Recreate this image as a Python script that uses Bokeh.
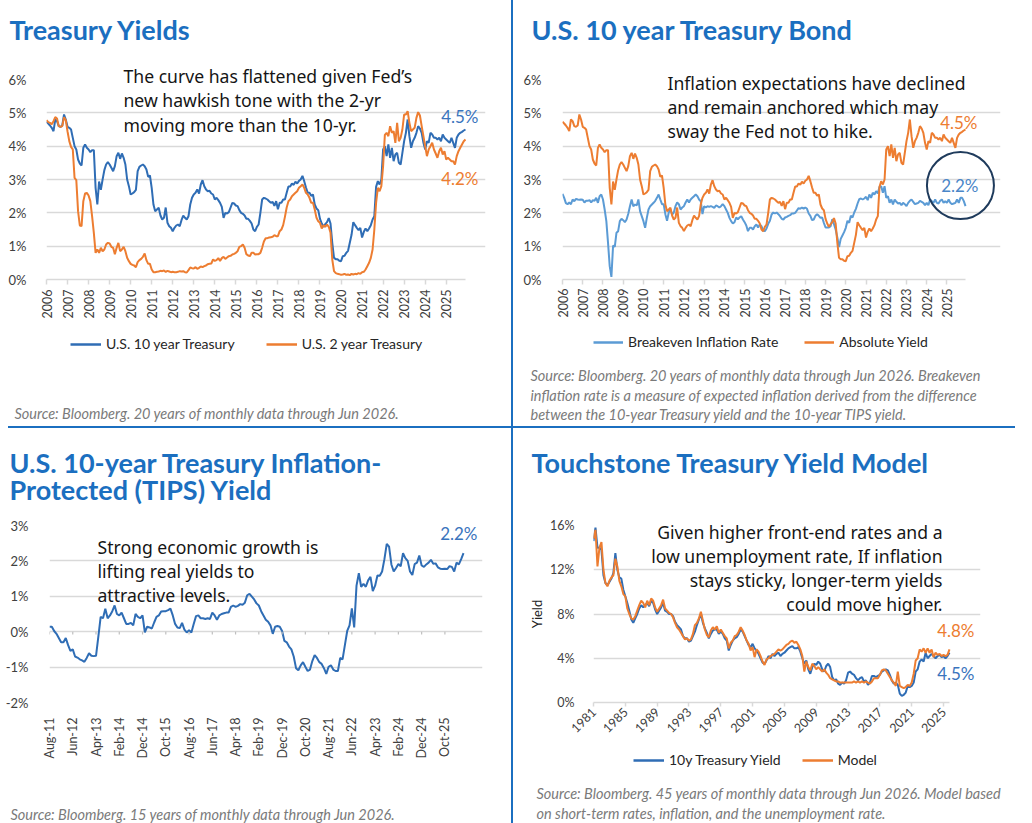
import math

from bokeh.embed import file_html
from bokeh.layouts import column, row
from bokeh.models import (Div, FixedTicker, GridBox, Label, Legend, LegendItem,
                          PrintfTickFormatter, Range1d)
from bokeh.plotting import figure
from bokeh.resources import INLINE

# ---------------------------------------------------------------------------
# Data (percent). Monthly series start in January 2006.
# ---------------------------------------------------------------------------
yields_start_year = 2006
ten_year = [
    4.73, 4.68, 4.62, 4.55, 4.45, 4.80, 4.75, 4.60, 4.58, 4.62,
    4.95, 4.80, 4.58, 4.55, 4.50, 4.25, 4.00, 3.90, 3.60, 3.48,
    3.42, 3.95, 4.05, 3.95, 3.90, 3.82, 3.88, 3.88, 2.75, 2.25,
    2.94, 2.69, 3.00, 3.28, 3.45, 3.52, 3.45, 3.35, 3.25, 3.40,
    3.70, 3.80, 3.62, 3.78, 3.65, 3.45, 3.00, 2.80, 2.55, 2.58,
    2.62, 2.69, 3.25, 3.38, 3.42, 3.45, 3.40, 3.30, 3.08, 3.12,
    2.75, 2.25, 2.05, 2.10, 2.15, 1.92, 1.80, 1.85, 2.16, 1.70,
    1.60, 1.55, 1.45, 1.55, 1.62, 1.65, 1.60, 1.78, 1.92, 1.85,
    1.80, 1.90, 2.25, 2.45, 2.55, 2.60, 2.70, 2.58, 2.85, 2.98,
    2.80, 2.70, 2.65, 2.66, 2.58, 2.55, 2.40, 2.45, 2.38, 2.30,
    2.18, 1.85, 2.00, 1.98, 2.02, 2.16, 2.30, 2.28, 2.22, 2.20,
    2.08, 2.00, 1.97, 1.92, 1.82, 1.82, 1.76, 1.68, 1.50, 1.45,
    1.58, 1.65, 2.00, 2.40, 2.45, 2.43, 2.40, 2.35, 2.30, 2.33,
    2.21, 2.35, 2.11, 2.30, 2.30, 2.40, 2.40, 2.60, 2.79, 2.79,
    2.88, 2.84, 2.93, 2.88, 2.96, 3.00, 3.11, 2.95, 2.76, 2.60,
    2.60, 2.51, 2.55, 2.25, 2.13, 2.08, 1.82, 1.68, 1.58, 1.66,
    1.72, 1.84, 1.68, 1.10, 0.65, 0.61, 0.61, 0.56, 0.55, 0.70,
    0.71, 0.80, 0.86, 1.10, 1.34, 1.72, 1.63, 1.55, 1.48, 1.55,
    1.26, 1.43, 1.53, 1.45, 1.53, 1.63, 1.80, 1.90, 2.78, 2.95,
    2.85, 3.00, 3.90, 4.00, 3.70, 4.05, 3.65, 3.95, 3.55, 3.75,
    3.80, 3.50, 3.45, 3.80, 4.15, 4.40, 4.80, 4.30, 3.95, 4.15,
    4.25, 4.40, 4.60, 4.53, 4.40, 4.10, 3.90, 4.15, 4.10, 4.40,
    4.35, 4.25, 4.25, 4.20, 4.25, 4.15, 4.35, 4.25, 4.20, 4.15,
    4.10, 4.25, 4.10, 3.95, 4.25, 4.35, 4.40, 4.43, 4.47, 4.50,
]
two_year = [
    4.78, 4.72, 4.70, 4.66, 4.75, 4.87, 4.83, 4.60, 4.58, 4.60,
    4.87, 4.78, 4.44, 4.15, 3.98, 3.90, 3.05, 2.98, 2.05, 1.62,
    1.60, 2.35, 2.58, 2.60, 2.52, 2.35, 1.90, 1.40, 0.80, 0.90,
    0.80, 0.95, 0.85, 0.90, 1.05, 1.10, 1.08, 0.98, 0.95, 0.76,
    0.95, 1.10, 0.85, 0.90, 0.98, 0.85, 0.65, 0.55, 0.47, 0.44,
    0.42, 0.37, 0.52, 0.58, 0.62, 0.68, 0.78, 0.58, 0.47, 0.47,
    0.30, 0.22, 0.22, 0.23, 0.24, 0.26, 0.25, 0.27, 0.23, 0.26,
    0.24, 0.22, 0.23, 0.22, 0.22, 0.23, 0.25, 0.24, 0.25, 0.22,
    0.21, 0.28, 0.36, 0.34, 0.33, 0.37, 0.32, 0.35, 0.39, 0.37,
    0.40, 0.42, 0.46, 0.47, 0.48, 0.60, 0.56, 0.58, 0.64, 0.56,
    0.64, 0.68, 0.62, 0.66, 0.70, 0.71, 0.75, 0.77, 0.80, 0.85,
    0.98, 1.00, 1.05, 0.95, 0.76, 0.72, 0.70, 0.80, 0.80, 0.75,
    0.76, 0.76, 0.80, 0.95, 1.14, 1.24, 1.24, 1.26, 1.27, 1.28,
    1.33, 1.30, 1.30, 1.45, 1.50, 1.63, 1.88, 2.16, 2.35, 2.40,
    2.50, 2.55, 2.60, 2.65, 2.75, 2.80, 2.85, 2.75, 2.60, 2.55,
    2.45, 2.30, 2.30, 2.10, 1.85, 1.75, 1.70, 1.53, 1.63, 1.58,
    1.65, 1.58, 1.40, 0.60, 0.25, 0.19, 0.17, 0.16, 0.14, 0.15,
    0.17, 0.14, 0.15, 0.13, 0.17, 0.15, 0.17, 0.16, 0.19, 0.17,
    0.22, 0.23, 0.30, 0.40, 0.50, 0.65, 0.90, 1.50, 2.30, 2.75,
    2.65, 2.80, 3.40, 4.34, 4.40, 4.30, 4.60, 4.40, 4.45, 4.10,
    4.70, 4.15, 4.25, 4.50, 4.95, 4.95, 5.05, 4.70, 4.45, 4.50,
    4.55, 4.85, 5.02, 4.92, 4.60, 4.30, 4.00, 3.70, 3.90, 4.00,
    4.10, 3.90, 3.78, 3.65, 3.85, 3.95, 3.75, 3.85, 3.60, 3.65,
    3.60, 3.55, 3.55, 3.45, 3.70, 3.85, 3.95, 4.05, 4.15, 4.20,
]
breakeven = [
    2.57, 2.45, 2.29, 2.26, 2.31, 2.26, 2.40, 2.35, 2.42, 2.40,
    2.39, 2.40, 2.39, 2.31, 2.36, 2.36, 2.38, 2.31, 2.38, 2.36,
    2.45, 2.30, 2.50, 2.55, 2.40, 2.10, 1.75, 1.10, 0.40, 0.08,
    1.02, 0.98, 1.40, 1.45, 1.75, 1.82, 1.78, 1.72, 1.80, 1.97,
    2.20, 2.40, 2.20, 2.25, 2.22, 2.40, 2.05, 1.90, 1.75, 1.55,
    1.85, 2.10, 2.20, 2.25, 2.30, 2.36, 2.45, 2.55, 2.40, 2.26,
    2.26, 1.96, 1.76, 2.01, 2.10, 1.95, 2.01, 2.20, 2.31, 2.26,
    2.10, 2.16, 2.20, 2.31, 2.40, 2.31, 2.40, 2.45, 2.50, 2.55,
    2.50, 2.40, 2.35, 1.96, 2.20, 2.16, 2.20, 2.18, 2.20, 2.18,
    2.15, 2.22, 2.20, 2.16, 2.20, 2.26, 2.20, 2.10, 2.00, 1.85,
    1.75, 1.68, 1.72, 1.86, 1.81, 1.86, 1.90, 1.80, 1.72, 1.62,
    1.45, 1.55, 1.55, 1.50, 1.60, 1.65, 1.56, 1.65, 1.60, 1.47,
    1.45, 1.53, 1.67, 1.76, 1.95, 2.01, 1.98, 2.01, 1.96, 1.90,
    1.82, 1.80, 1.86, 1.88, 1.91, 1.93, 1.98, 1.98, 2.00, 2.07,
    2.14, 2.12, 2.16, 2.12, 2.16, 2.12, 1.98, 1.91, 1.78, 1.80,
    1.91, 1.96, 1.91, 1.85, 1.86, 1.70, 1.56, 1.56, 1.56, 1.60,
    1.81, 1.66, 1.50, 1.26, 0.97, 1.22, 1.32, 1.42, 1.55, 1.76,
    1.70, 1.91, 1.86, 2.01, 2.12, 2.28, 2.41, 2.43, 2.40, 2.43,
    2.48, 2.38, 2.55, 2.45, 2.60, 2.55, 2.65, 2.58, 2.78, 2.80,
    2.60, 2.80, 2.45, 2.50, 2.30, 2.40, 2.25, 2.40, 2.33, 2.28,
    2.30, 2.23, 2.30, 2.26, 2.20, 2.30, 2.36, 2.40, 2.33, 2.26,
    2.28, 2.30, 2.36, 2.33, 2.30, 2.23, 2.30, 2.23, 2.40, 2.35,
    2.30, 2.40, 2.30, 2.28, 2.36, 2.40, 2.30, 2.35, 2.30, 2.40,
    2.30, 2.26, 2.28, 2.30, 2.40, 2.30, 2.45, 2.45, 2.35, 2.20,
]
year_ticks = list(range(2006, 2026))

# 10-year TIPS yield, monthly from Aug 2011
tips = [
    0.14, 0.14, 0.02, -0.06, -0.18, -0.30, -0.30, -0.18, -0.38, -0.54,
    -0.50, -0.70, -0.73, -0.78, -0.81, -0.85, -0.74, -0.61, -0.68, -0.69,
    -0.68, -0.14, 0.42, 0.38, 0.65, 0.38, 0.46, 0.58, 0.74, 0.50,
    0.46, 0.54, 0.38, 0.22, 0.22, 0.25, 0.18, 0.50, 0.42, 0.38,
    0.46, -0.02, 0.14, 0.12, 0.09, 0.26, 0.42, 0.46, 0.57, 0.58,
    0.58, 0.61, 0.65, 0.46, 0.22, 0.12, 0.10, 0.25, 0.06, -0.02,
    0.04, -0.02, 0.22, 0.44, 0.46, 0.38, 0.38, 0.36, 0.38, 0.36,
    0.54, 0.46, 0.34, 0.46, 0.50, 0.52, 0.54, 0.54, 0.70, 0.74,
    0.70, 0.73, 0.78, 0.76, 0.82, 1.03, 1.07, 0.99, 0.91, 0.80,
    0.74, 0.58, 0.46, 0.34, 0.28, 0.18, -0.06, 0.14, 0.16, 0.14,
    0.02, -0.26, -0.30, -0.42, -0.50, -0.70, -1.03, -1.09, -0.95, -0.86,
    -0.99, -1.11, -1.07, -0.83, -0.66, -0.74, -0.86, -0.91, -1.03, -1.19,
    -0.99, -0.95, -1.07, -1.11, -1.11, -0.74, -0.78, -0.38, 0.02, 0.18,
    0.66, 0.12, 1.30, 1.65, 1.27, 1.35, 1.27, 1.45, 1.55, 1.15,
    1.30, 1.59, 1.58, 1.70, 2.05, 2.48, 2.40, 1.90, 1.70, 1.80,
    1.91, 1.85, 2.22, 2.08, 2.00, 1.70, 1.60, 1.91, 1.95, 2.15,
    1.87, 1.83, 1.90, 1.95, 2.03, 1.92, 1.93, 1.82, 1.78, 1.77,
    1.78, 1.77, 1.85, 1.83, 1.70, 1.95, 1.90, 2.05, 2.22,
]
tips_tick_labels = [
    "Aug-11", "Jun-12", "Apr-13", "Feb-14", "Dec-14", "Oct-15", "Aug-16",
    "Jun-17", "Apr-18", "Feb-19", "Dec-19", "Oct-20", "Aug-21", "Jun-22",
    "Apr-23", "Feb-24", "Dec-24", "Oct-25",
]
tips_tick_step = 10  # months between labelled ticks

# Yield model, quarterly from 1981
model_start_year = 1981
model_treasury = [
    14.6, 15.8, 14.0, 14.0, 13.8, 11.5, 10.8, 10.6, 10.9, 11.2,
    11.7, 13.5, 12.0, 11.3, 11.2, 10.2, 9.6, 9.0, 8.3, 7.5,
    7.2, 7.6, 8.0, 8.5, 8.8, 8.6, 8.8, 9.0, 8.7, 9.2,
    9.0, 8.4, 8.0, 8.3, 8.6, 9.0, 8.3, 8.2, 8.0, 8.0,
    7.8, 7.3, 7.0, 6.8, 6.6, 6.0, 5.8, 5.8, 5.5, 5.6,
    6.0, 6.4, 7.0, 7.5, 8.0, 7.2, 6.7, 6.3, 5.8, 6.2,
    6.5, 6.6, 6.6, 6.2, 6.4, 6.2, 5.8, 5.6, 4.7, 5.2,
    5.6, 5.8, 5.9, 6.2, 6.6, 6.4, 6.0, 5.6, 5.2, 5.0,
    5.3, 4.9, 4.7, 4.4, 4.0, 3.6, 3.5, 3.8, 4.2, 4.0,
    4.4, 4.2, 4.4, 4.5, 4.2, 4.4, 4.5, 4.7, 4.9, 5.0,
    5.1, 4.9, 4.9, 5.0, 4.6, 4.0, 3.5, 3.8, 3.0, 2.6,
    3.2, 3.5, 3.4, 3.7, 3.5, 3.0, 2.8, 3.3, 3.5, 3.2,
    2.3, 2.0, 2.1, 1.7, 1.6, 1.8, 1.7, 2.0, 2.7, 2.8,
    2.6, 2.5, 2.2, 2.0, 2.2, 2.3, 1.9, 2.0, 1.6, 1.8,
    2.4, 2.4, 2.3, 2.4, 2.5, 2.8, 2.9, 3.0, 2.9, 2.5,
    2.0, 1.7, 1.8, 1.6, 0.8, 0.6, 0.7, 0.9, 1.5, 1.4,
    1.5, 1.8, 2.8, 3.0, 3.7, 3.9, 3.7, 4.5, 4.0, 4.2,
    4.4, 4.2, 4.0, 4.2, 4.3, 4.1, 4.2, 4.0, 4.2, 4.5,
]
model_fit = [
    14.8, 15.6, 12.3, 14.0, 14.5, 12.0, 10.8, 10.5, 11.0, 11.3,
    11.5, 13.0, 12.3, 11.0, 10.5, 9.8, 9.6, 8.5, 8.0, 7.6,
    7.5, 7.8, 8.3, 8.8, 9.2, 9.0, 8.6, 9.2, 8.8, 9.4,
    9.2, 8.6, 8.2, 8.5, 8.8, 9.3, 8.5, 8.3, 8.1, 8.0,
    7.7, 7.2, 6.8, 6.6, 6.3, 6.0, 5.7, 5.8, 5.6, 5.7,
    6.2, 7.0, 7.2, 7.6, 8.2, 7.4, 6.6, 6.1, 5.9, 6.5,
    6.8, 6.6, 6.9, 6.3, 6.6, 6.3, 6.0, 5.8, 4.9, 5.4,
    5.6, 6.0, 6.1, 6.4, 6.8, 6.5, 6.1, 5.6, 5.3, 4.7,
    5.0, 4.1, 4.8, 4.6, 4.2, 3.7, 3.4, 3.9, 4.0, 4.2,
    4.3, 4.4, 4.6, 4.8, 4.7, 4.8, 5.0, 5.2, 5.3, 5.5,
    5.6, 5.4, 5.5, 5.2, 4.8, 4.2, 2.8, 3.7, 3.2, 2.9,
    3.5, 3.3, 3.0, 3.2, 3.0, 2.8, 3.0, 2.7, 2.5, 2.2,
    2.1, 2.0, 1.9, 1.9, 1.8, 1.8, 1.8, 1.8, 1.8, 1.8,
    1.8, 1.9, 1.8, 1.9, 1.8, 1.9, 1.8, 1.9, 1.8, 1.7,
    1.9, 2.2, 2.2, 2.2, 2.5, 2.9, 3.0, 2.9, 2.6, 2.3,
    2.0, 1.8, 1.5, 2.8, 1.5, 1.4, 1.3, 1.4, 1.6, 1.5,
    1.8, 2.6, 3.8, 4.0, 4.8, 4.6, 4.9, 4.5, 4.9, 4.5,
    4.8, 4.1, 4.5, 4.3, 4.4, 4.2, 4.3, 4.2, 4.3, 4.8,
]
model_year_ticks = list(range(1981, 2026, 4))

# ---------------------------------------------------------------------------
# Styling
# ---------------------------------------------------------------------------
BLUE = "#2f6db5"
ORANGE = "#ed7d31"
LIGHT_BLUE = "#5b9bd5"
ACCENT = "#1b6fc0"
GRID = "#d9d9d9"
TICK_TEXT = "#404040"
UI_FONT = "Lato"
NOTE_FONT = "Noto Sans"
SOURCE_COLOR = "#7a7a7a"
PAGE_W, PAGE_H = 1032, 823


class Panel:
    """A chart whose plot frame sits at given page pixels.

    ox, oy, w, h: canvas box on the page; frame_* are page pixels. The data
    run from x0 to x1 and end at page pixel data_right; the frame may extend
    further right to leave room for end-of-line labels.
    """

    def __init__(self, ox, oy, w, h, frame_left, frame_right, frame_top,
                 frame_bottom, x0, x1, data_right, y_range):
        span = (x1 - x0) * (frame_right - frame_left) / (data_right - frame_left)
        p = figure(width=w, height=h, x_range=Range1d(x0, x0 + span),
                   y_range=y_range, output_backend="svg",
                   toolbar_location=None,
                   min_border_left=frame_left - ox,
                   min_border_right=ox + w - frame_right,
                   min_border_top=frame_top - oy,
                   min_border_bottom=oy + h - frame_bottom)
        p.outline_line_color = None
        p.background_fill_color = "white"
        p.border_fill_color = "white"
        p.xgrid.grid_line_color = None
        p.ygrid.grid_line_color = GRID
        p.ygrid.grid_line_width = 1.5
        p.ygrid.bounds = (x0, x1)
        for ax in (p.xaxis, p.yaxis):
            ax.major_label_text_font = UI_FONT
            ax.major_label_text_color = TICK_TEXT
            ax.minor_tick_line_color = None
        p.yaxis.axis_line_color = None
        p.yaxis.major_tick_line_color = None
        p.xaxis.bounds = (x0, x1)
        p.xaxis.axis_line_color = GRID
        p.xaxis.axis_line_width = 1.5
        p.xaxis.major_tick_line_color = GRID
        p.xaxis.major_tick_line_width = 1.5
        p.xaxis.major_tick_in = 0
        p.xaxis.major_tick_out = 5
        self.fig = p

    def end_label(self, x, y, s, color, dx, dy):
        self.fig.add_layout(Label(
            x=x, y=y, x_offset=dx, y_offset=dy, text=s, text_font=UI_FONT,
            text_font_size="17px", text_color=color, text_align="right",
            text_baseline="middle"))


def pct_axis(p, ticks, grid_ticks, size):
    p.yaxis.ticker = FixedTicker(ticks=ticks)
    p.yaxis.formatter = PrintfTickFormatter(format="%d%%")
    p.yaxis.major_label_text_font_size = f"{size}px"
    p.ygrid.ticker = FixedTicker(ticks=grid_ticks)


# A transparent sheet over the whole page carries titles, notes, legends
# and source lines, so they are free to sit outside the plot frames.
sheet = figure(width=PAGE_W, height=PAGE_H, x_range=Range1d(0, PAGE_W),
               y_range=Range1d(PAGE_H, 0), output_backend="svg",
               toolbar_location=None, x_axis_location=None,
               y_axis_location=None, min_border=0)
sheet.grid.visible = False
sheet.outline_line_color = None
sheet.background_fill_alpha = 0
sheet.border_fill_alpha = 0


def put(s, gx, gy, size, color, font=UI_FONT, style="normal", align="left",
        baseline="middle"):
    sheet.add_layout(Label(
        x=gx, y=gy, text=s, text_font=font, text_font_size=f"{size}px",
        text_color=color, text_font_style=style, text_align=align,
        text_baseline=baseline))


def title(lines, gx, gy0):
    for i, line in enumerate(lines):
        put(line, gx, gy0 + i * 27, 27, ACCENT, style="bold",
            baseline="alphabetic")


def note(lines, gx, gy0, step, align="left"):
    for i, line in enumerate(lines):
        put(line, gx, gy0 + i * step, 17.6, "#151515", font=NOTE_FONT,
            align=align)


def source(lines, gx, gy0, step=19.7):
    for i, line in enumerate(lines):
        put(line, gx, gy0 + i * step, 14.5, SOURCE_COLOR, style="italic")


def legend(entries, gx, gy, spacing, glyph_w):
    items = []
    for lab, color in entries:
        # key-only renderer: a single missing point, so nothing is plotted
        swatch = sheet.line(x=[float("nan")], y=[float("nan")], color=color,
                            line_width=2.5)
        items.append(LegendItem(label=lab, renderers=[swatch]))
    sheet.add_layout(Legend(
        items=items, orientation="horizontal",
        location=(gx, PAGE_H - gy - 8),
        label_text_font=UI_FONT, label_text_font_size="14px",
        label_text_color="#262626", glyph_width=glyph_w, glyph_height=16,
        label_height=16, label_standoff=5, spacing=spacing, padding=0,
        margin=0, border_line_color=None, background_fill_alpha=0))


months = [yields_start_year + i / 12 for i in range(len(ten_year))]

# ---------------------------------------------------------------------------
# Treasury Yields
# ---------------------------------------------------------------------------
p1 = Panel(0, 0, 511, 426, 46, 485, 73, 279, months[0], months[-1], 465,
           Range1d(0, 6))
f = p1.fig
f.line(months, ten_year, color=BLUE, line_width=2)
f.line(months, two_year, color=ORANGE, line_width=2)
pct_axis(f, list(range(0, 7)), list(range(1, 6)), 13)
f.yaxis.major_label_standoff = 14
f.xaxis.ticker = FixedTicker(ticks=year_ticks)
f.xaxis.major_label_orientation = math.pi / 2
f.xaxis.major_label_text_font_size = "12.5px"
f.xaxis.major_label_standoff = 5
p1.end_label(months[-1], ten_year[-1], f"{ten_year[-1]:.1f}%", "#3a74bd", 13, 13.5)
p1.end_label(months[-1], two_year[-1], f"{two_year[-1]:.1f}%", ORANGE, 13, -39)

title(["Treasury Yields"], 9, 29)
note(["The curve has flattened given Fed\u2019s",
      "new hawkish tone with the 2-yr",
      "moving more than the 10-yr."], 123, 75, 24.6)
legend([("U.S. 10 year Treasury", BLUE), ("U.S. 2 year Treasury", ORANGE)],
       70, 344, 31, 31)
source(["Source: Bloomberg. 20 years of monthly data through Jun 2026."], 14, 413)

# ---------------------------------------------------------------------------
# U.S. 10 year Treasury Bond
# ---------------------------------------------------------------------------
p2 = Panel(513, 0, 519, 426, 562, 1000, 79, 281, months[0], months[-1], 965,
           Range1d(0, 6))
f = p2.fig
f.line(months, breakeven, color=LIGHT_BLUE, line_width=2)
f.line(months, ten_year, color=ORANGE, line_width=2)
pct_axis(f, list(range(0, 7)), list(range(1, 7)), 13)
f.yaxis.major_label_standoff = 15
f.xaxis.ticker = FixedTicker(ticks=year_ticks)
f.xaxis.major_label_orientation = math.pi / 2
f.xaxis.major_label_text_font_size = "12.5px"
f.xaxis.major_label_standoff = 4
f.scatter(x=[months[-1] - 0.25], y=[breakeven[-1] + 0.62], size=67,
          marker="circle", fill_color=None, line_color="#1f3b5c", line_width=2)
p2.end_label(months[-1], ten_year[-1], f"{ten_year[-1]:.1f}%", ORANGE, 12, 7)
p2.end_label(months[-1], breakeven[-1], f"{breakeven[-1]:.1f}%", "#4a86c8", 13, 21)

title(["U.S. 10 year Treasury Bond"], 531, 29)
note(["Inflation expectations have declined",
      "and remain anchored which may",
      "sway the Fed not to hike."], 667, 82, 24)
legend([("Breakeven Inflation Rate", LIGHT_BLUE), ("Absolute Yield", ORANGE)],
       593, 342, 26, 30)
source(["Source: Bloomberg. 20 years of monthly data through Jun 2026. Breakeven",
        "inflation rate is a measure of expected inflation derived from the difference",
        "between the 10-year Treasury yield and the 10-year TIPS yield."], 530, 375)

# ---------------------------------------------------------------------------
# U.S. 10-year TIPS Yield
# ---------------------------------------------------------------------------
tips_idx = list(range(len(tips)))
tips_ticks = [i * tips_tick_step for i in range(len(tips_tick_labels))]
p3 = Panel(0, 428, 511, 395, 49, 482, 525, 732, tips_idx[0], tips_idx[-1], 463,
           Range1d(-2, 3))
f = p3.fig
f.line(tips_idx, tips, color=BLUE, line_width=2)
f.segment(x0=tips_ticks, y0=[0] * len(tips_ticks), x1=tips_ticks,
          y1=[-0.08] * len(tips_ticks), line_color="#bfbfbf", line_width=1.2)
pct_axis(f, list(range(-2, 4)), list(range(-2, 4)), 13)
f.yaxis.major_label_standoff = 15
f.xaxis.ticker = FixedTicker(ticks=tips_ticks)
f.xaxis.major_label_overrides = {t: lab for t, lab in zip(tips_ticks, tips_tick_labels)}
f.xaxis.major_label_orientation = math.pi / 2
f.xaxis.major_label_text_font_size = "12.5px"
f.xaxis.axis_line_color = None
f.xaxis.major_tick_line_color = None
f.xaxis.major_label_standoff = 10
p3.end_label(tips_idx[-1], tips[-1], f"{tips[-1]:.1f}%", "#3a74bd", 14, 20)

title(["U.S. 10-year Treasury Inflation-", "Protected (TIPS) Yield"], 9, 462)
note(["Strong economic growth is",
      "lifting real yields to",
      "attractive levels."], 97, 546.7, 23.7)
source(["Source: Bloomberg. 15 years of monthly data through Jun 2026."], 10, 814)

# ---------------------------------------------------------------------------
# Touchstone Treasury Yield Model
# ---------------------------------------------------------------------------
quarters = [model_start_year + i / 4 for i in range(len(model_treasury))]
p4 = Panel(513, 428, 519, 395, 593, 980, 496, 702, quarters[0], quarters[-1],
           949, Range1d(0, 16))
f = p4.fig
f.line(quarters, model_treasury, color=BLUE, line_width=2)
f.line(quarters, model_fit, color=ORANGE, line_width=2)
pct_axis(f, [0, 4, 8, 12, 16], [4, 8, 12, 16], 12.5)
f.yaxis.major_label_standoff = 13
f.yaxis.axis_label = "Yield"
f.yaxis.axis_label_text_font = UI_FONT
f.yaxis.axis_label_text_font_style = "normal"
f.yaxis.axis_label_text_font_size = "13px"
f.yaxis.axis_label_text_color = "#222222"
f.yaxis.axis_label_standoff = 2
f.xaxis.ticker = FixedTicker(ticks=model_year_ticks)
f.xaxis.major_label_orientation = math.pi / 4
f.xaxis.major_label_text_font_size = "12.5px"
f.xaxis.major_tick_out = 4
f.xaxis.major_label_standoff = 3
p4.end_label(quarters[-1], model_fit[-1], f"{model_fit[-1]:.1f}%", ORANGE, 25, 19)
p4.end_label(quarters[-1], model_treasury[-1], f"{model_treasury[-1]:.1f}%",
             "#3a74bd", 25, -21)

title(["Touchstone Treasury Yield Model"], 531, 462)
note(["Given higher front-end rates and a",
      "low unemployment rate, If inflation",
      "stays sticky, longer-term yields",
      "could move higher."], 942, 531.7, 23.9, align="right")
legend([("10y Treasury Yield", BLUE), ("Model", ORANGE)], 633, 760, 21, 31)
source(["Source: Bloomberg. 45 years of monthly data through Jun 2026. Model based",
        "on short-term rates, inflation, and the unemployment rate."], 536, 792.7, 20)


# ---------------------------------------------------------------------------
# Page layout: four charts separated by blue rules, text sheet on top
# ---------------------------------------------------------------------------
def block(w, h, color=None):
    styles = {"background-color": color} if color else {}
    return Div(text="", width=w, height=h, margin=0, styles=styles)


charts = column(
    row(p1.fig, block(2, 426, ACCENT), p2.fig, spacing=0),
    row(block(8, 2), block(1007, 2, ACCENT), block(17, 2), spacing=0),
    row(p3.fig, block(2, 395, ACCENT), p4.fig, spacing=0),
    spacing=0,
)
page = GridBox(children=[(charts, 0, 0), (sheet, 0, 0)])

with open("out.html", "w") as fh:
    fh.write(file_html(page, INLINE))
